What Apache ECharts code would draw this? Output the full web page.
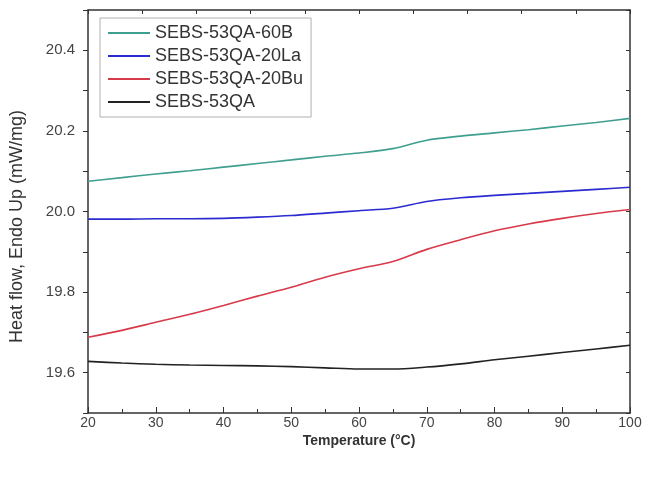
<!DOCTYPE html>
<html>
<head>
<meta charset="utf-8">
<script src="https://cdn.jsdelivr.net/npm/echarts@6/dist/echarts.min.js"></script>
<style>
  html, body { margin: 0; padding: 0; background: #fff; }
  #chart { width: 646px; height: 481px; }
</style>
</head>
<body>
<div id="chart"></div>
<script>
// temperature (°C)
const temps = [20, 25, 30, 35, 40, 45, 50, 55, 60, 65, 70, 75, 80, 85, 90, 95, 100];
// heat flow (mW/mg)
const qa60B = [20.075, 20.084, 20.093, 20.101, 20.110, 20.119, 20.128, 20.137, 20.145, 20.156, 20.177, 20.187, 20.195, 20.203, 20.212, 20.221, 20.231];
const qa20La = [19.981, 19.981, 19.982, 19.982, 19.983, 19.986, 19.990, 19.996, 20.002, 20.008, 20.025, 20.034, 20.040, 20.045, 20.050, 20.055, 20.060];
const qa20Bu = [19.688, 19.705, 19.725, 19.745, 19.767, 19.790, 19.812, 19.837, 19.858, 19.876, 19.906, 19.930, 19.952, 19.969, 19.983, 19.995, 20.005];
const qa = [19.628, 19.624, 19.621, 19.619, 19.618, 19.617, 19.615, 19.612, 19.609, 19.609, 19.614, 19.622, 19.632, 19.641, 19.650, 19.659, 19.668];

const names = ['SEBS-53QA-60B', 'SEBS-53QA-20La', 'SEBS-53QA-20Bu', 'SEBS-53QA'];
const colors = ['#3f9f8f', '#2b2bd0', '#d83a4a', '#222222'];
const values = [qa60B, qa20La, qa20Bu, qa];

const chart = echarts.init(document.getElementById('chart'), null, { renderer: 'canvas' });

const FONT = 'Liberation Sans, Arial, sans-serif';
const axisLine = { show: true, lineStyle: { color: '#333', width: 1.5 } };

const option = {
  animation: false,
  backgroundColor: '#fff',
  textStyle: { fontFamily: FONT },
  grid: { left: 88, right: 16, top: 10, bottom: 68 },
  legend: {
    orient: 'vertical',
    left: 100, top: 18,
    padding: [6, 8, 6, 8],
    itemGap: 5,
    itemWidth: 42, itemHeight: 2,
    icon: 'rect',
    borderColor: '#b0b0b0', borderWidth: 1,
    backgroundColor: '#fff',
    textStyle: { fontSize: 18, color: '#333', fontFamily: FONT, lineHeight: 17 },
    data: names
  },
  xAxis: [{
    type: 'value', min: 20, max: 100, interval: 10,
    name: 'Temperature (°C)', nameLocation: 'middle', nameGap: 21, nameMoveOverlap: false,
    nameTextStyle: { fontSize: 14, fontWeight: 'bold', color: '#333', fontFamily: FONT },
    axisLine: axisLine,
    axisTick: { inside: true, length: 6, lineStyle: { color: '#333' } },
    minorTick: { show: true, splitNumber: 2, length: 4, lineStyle: { color: '#333' } },
    axisLabel: { fontSize: 14, color: '#444', margin: 3, fontFamily: FONT },
    splitLine: { show: false }
  }, {
    type: 'value', position: 'top', min: 0, max: 10, interval: 1,
    axisLine: axisLine,
    axisTick: { inside: true, length: 4, lineStyle: { color: '#333' } },
    axisLabel: { show: false },
    splitLine: { show: false }
  }],
  yAxis: [{
    type: 'value', min: 19.5, max: 20.5, interval: 0.1,
    name: 'Heat flow, Endo Up (mW/mg)', nameLocation: 'middle', nameGap: 62,
    nameTextStyle: { fontSize: 18, color: '#333', fontFamily: FONT, padding: [0, 30, 0, 0] },
    axisLine: axisLine,
    axisTick: { inside: false, length: 5, lineStyle: { color: '#333' } },
    axisLabel: {
      fontSize: 15, color: '#444', margin: 13, fontFamily: FONT,
      formatter: function (v) {
        const k = Math.round(v * 10);
        if (k % 2 !== 0 || k < 196 || k > 204) return '';
        return (k / 10).toFixed(1);
      }
    },
    splitLine: { show: false }
  }, {
    type: 'value', position: 'right', min: 19.5, max: 20.5, interval: 0.1,
    axisLine: axisLine,
    axisTick: { inside: true, length: 4, lineStyle: { color: '#333' } },
    axisLabel: { show: false },
    splitLine: { show: false }
  }],
  series: names.map(function (n, i) {
    return {
      name: n,
      type: 'line',
      xAxisIndex: 0, yAxisIndex: 0,
      smooth: 0.3,
      showSymbol: false,
      color: colors[i],
      lineStyle: { width: 1.6, color: colors[i] },
      data: temps.map(function (t, j) { return [t, values[i][j]]; })
    };
  })
};

chart.setOption(option);
</script>
</body>
</html>
